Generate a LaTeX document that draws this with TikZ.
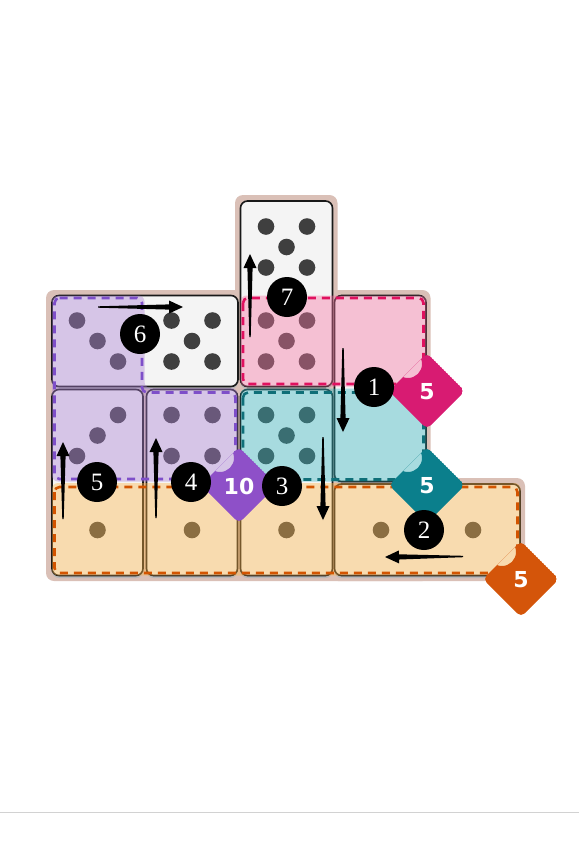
\documentclass[tikz,border=0pt]{standalone}
\usepackage{fontspec}
\setmainfont{Liberation Serif}
\newfontfamily\badgefont{DejaVu Sans}
\usetikzlibrary{calc}

\definecolor{tray}{HTML}{DAC0B7}
\definecolor{tilewhite}{HTML}{F4F4F4}
\definecolor{pipgray}{HTML}{3F3F3F}
\definecolor{purpfill}{HTML}{AA7FD4}
\definecolor{purpline}{HTML}{7E4FC9}
\definecolor{pinkfill}{HTML}{F773A2}
\definecolor{pinkline}{HTML}{E0115F}
\definecolor{cyanfill}{HTML}{34B6C0}
\definecolor{cyanline}{HTML}{0F6F78}
\definecolor{orgfill}{HTML}{FFB648}
\definecolor{orgline}{HTML}{D35400}
\definecolor{pinkbadge}{HTML}{D81B72}
\definecolor{tealbadge}{HTML}{0B7F8C}
\definecolor{purpbadge}{HTML}{8E50C8}
\definecolor{orgbadge}{HTML}{D4550A}

\tikzset{
  tile/.style={fill=tilewhite, draw=black!90, line width=1.6pt, rounded corners=7pt},
  tileshadow/.style={fill=black!28, rounded corners=7pt},
  pip/.style={fill=pipgray},
  zone/.style={fill opacity=0.4, rounded corners=6pt},
  zoneedge/.style={line width=2.6pt, dash pattern=on 8pt off 6pt, rounded corners=5pt},
  stepdot/.style={circle, fill=black, text=white, minimum size=40pt, inner sep=0pt,
    font=\fontsize{25}{25}\selectfont},
  badgetext/.style={text=white, font=\badgefont\bfseries\fontsize{22}{22}\selectfont},
}

% tapered arrow from #1 to #2
\newcommand{\taper}[2]{%
  \coordinate (hb) at ($(#2)!14pt!(#1)$);
  \fill ($(#1)!0.7pt!90:(#2)$) -- ($(hb)!2.6pt!90:(#2)$) -- ($(hb)!6.5pt!90:(#2)$) -- (#2)
    -- ($(hb)!6.5pt!-90:(#2)$) -- ($(hb)!2.6pt!-90:(#2)$) -- ($(#1)!0.7pt!-90:(#2)$) -- cycle;}

% notched diamond with a score
\newcommand{\scorebadge}[5]{%
  \begin{scope}[shift={(#1,#2)}]
    \begin{scope}
      \clip[rounded corners=5pt] (0,-38) -- (38,0) -- (0,38) -- (-38,0) -- cycle;
      \fill[#3, even odd rule, rounded corners=5pt] (0,-38) -- (38,0) -- (0,38) -- (-38,0) -- cycle
        (-19,-27) circle (14pt);
    \end{scope}
    \node[badgetext] (#4) at (0,1) {#5};
  \end{scope}}

\begin{document}
\begin{tikzpicture}[x=1pt, y=-1pt]
  \useasboundingbox (0,0) rectangle (579,844);

  % tray
  \fill[tray, rounded corners=8pt] (235,195) rectangle (337.5,300);
  \fill[tray, rounded corners=8pt] (46,290) rectangle (430.5,581);
  \fill[tray, rounded corners=8pt] (330,478) rectangle (525,581);

  % dominoes
  \foreach \xa/\ya/\xb/\yb in {240.5/201/332.5/386.5, 52/295.5/238/386.5, 52/389.5/143/575.5,
      146.5/389.5/237.5/575.5, 240.5/389.5/332.5/575.5, 334.5/295.5/426/481.5, 334.5/484/520/575.5} {
    \fill[tileshadow] (\xa,\ya+2.5) rectangle (\xb,\yb+2.5);
    \draw[tile] (\xa,\ya) rectangle (\xb,\yb);
  }

  % pips
  \foreach \cx/\cy in {286.5/247, 286.5/341, 192/341, 286.5/435.5}
    \foreach \dx/\dy in {-1/-1, 1/-1, 0/0, -1/1, 1/1}
      \fill[pip] (\cx+20.5*\dx, \cy+20.5*\dy) circle (8.3pt);
  \foreach \dx/\dy in {-1/-1, 1/-1, -1/1, 1/1}
    \fill[pip] (192+20.5*\dx, 435.5+20.5*\dy) circle (8.3pt);
  \foreach \dx/\dy in {-1/-1, 0/0, 1/1}
    \fill[pip] (97.5+20.5*\dx, 341+20.5*\dy) circle (8.3pt);
  \foreach \dx/\dy in {1/-1, 0/0, -1/1}
    \fill[pip] (97.5+20.5*\dx, 435.5+20.5*\dy) circle (8.3pt);
  \foreach \cx in {97.5, 192, 286.5, 381, 473}
    \fill[pip] (\cx,530) circle (8.3pt);

  % zones
  \fill[zone, purpfill] (52,295.5) -- (144.5,295.5) -- (144.5,388) -- (237.5,388)
    -- (237.5,481.5) -- (52,481.5) -- cycle;
  \fill[zone, pinkfill] (240.5,295.5) rectangle (426.5,386.5);
  \fill[zone, cyanfill] (240.5,388.5) rectangle (426.5,481.5);
  \fill[zone, orgfill] (52,483) rectangle (520.5,575.5);

  \draw[zoneedge, purpline] (54.5,298) -- (142,298) -- (142,392.5) -- (235.5,392.5)
    -- (235.5,479) -- (54.5,479) -- cycle;
  \draw[zoneedge, pinkline] (243,298) rectangle (423.5,384);
  \draw[zoneedge, cyanline] (243,392.5) rectangle (423.5,479.5);
  \draw[zoneedge, orgline] (54.5,487) rectangle (517.5,573);

  % arrows
  \coordinate (t6) at (98,307);    \coordinate (h6) at (183,307);
  \coordinate (t7) at (250,337);   \coordinate (h7) at (250,254);
  \coordinate (t1) at (343,348);   \coordinate (h1) at (343,432);
  \coordinate (t3) at (323,437);   \coordinate (h3) at (323,520);
  \coordinate (t4) at (156,518);   \coordinate (h4) at (156,438);
  \coordinate (t5) at (63,519);    \coordinate (h5) at (63,442);
  \coordinate (t2) at (463,556.5); \coordinate (h2) at (385,557);
  \foreach \k in {1,...,7} {
    \taper{t\k}{h\k}
  }

  % scores
  \scorebadge{427}{391}{pinkbadge}{pinkval}{5}
  \scorebadge{427}{485}{tealbadge}{tealval}{5}
  \scorebadge{239}{485}{purpbadge}{purpval}{10}
  \scorebadge{521}{579}{orgbadge}{orgval}{5}

  % steps
  \node[stepdot] (s1) at (374,387) {1};
  \node[stepdot] (s2) at (424,530) {2};
  \node[stepdot] (s3) at (282,486) {3};
  \node[stepdot] (s4) at (191,482) {4};
  \node[stepdot] (s5) at (97,482) {5};
  \node[stepdot] (s6) at (140,334) {6};
  \node[stepdot] (s7) at (287,297) {7};

  \draw[gray!35, line width=1pt] (0,812.5) -- (579,812.5);
\end{tikzpicture}
\end{document}
